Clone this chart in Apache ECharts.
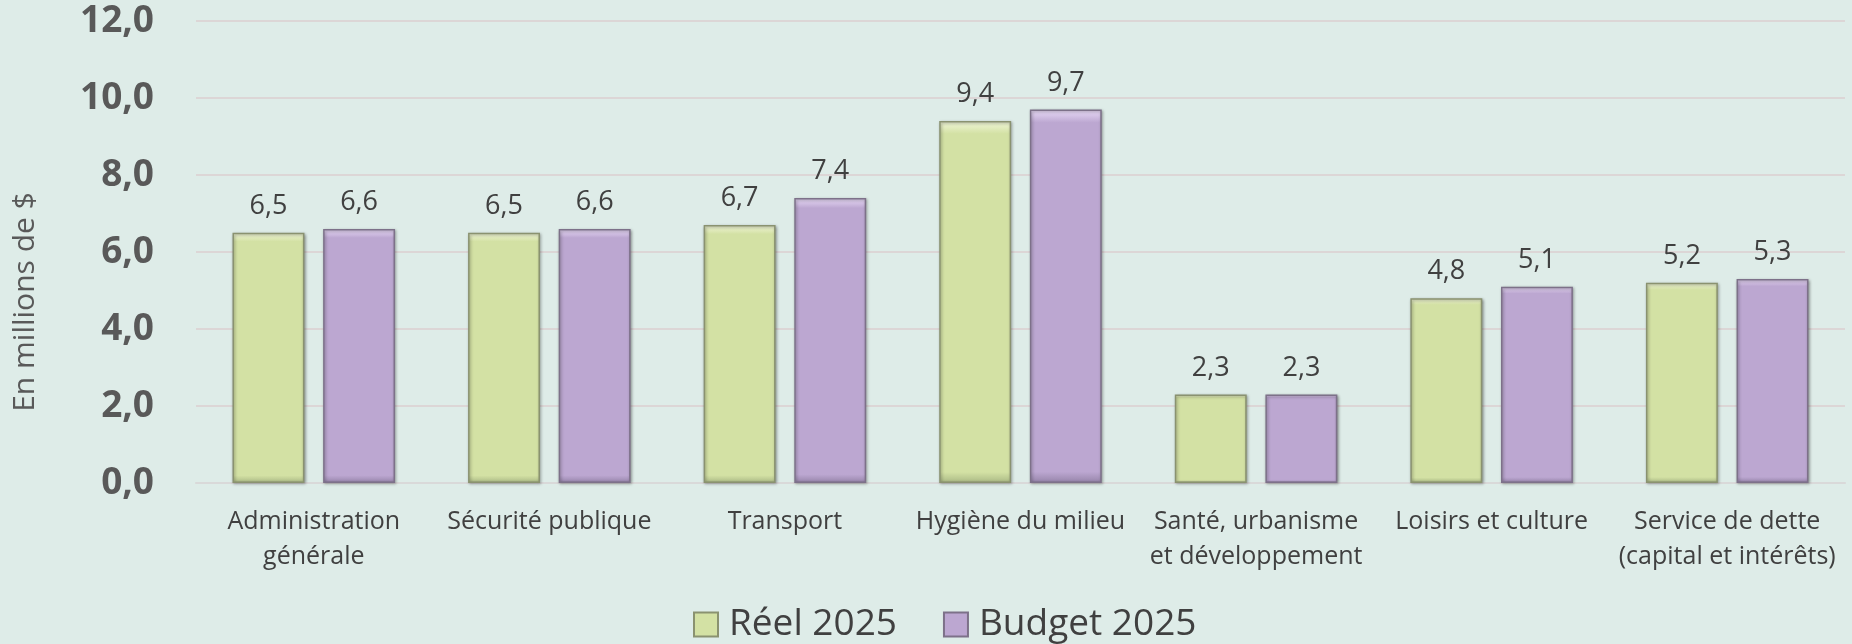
<!DOCTYPE html>
<html>
<head>
<meta charset="utf-8">
<script src="https://cdn.jsdelivr.net/npm/echarts@6/dist/echarts.min.js"></script>
<style>
    html, body { margin: 0; padding: 0; background: #deece8; }
    #chart { width: 1852px; height: 644px; }
</style>
</head>
<body>
<div id="chart"></div>
<script>
let categories = ['Administration\ngénérale', 'Sécurité publique', 'Transport', 'Hygiène du milieu',
    'Santé, urbanisme\net développement', 'Loisirs et culture', 'Service de dette\n(capital et intérêts)'];
let reelData = [6.5, 6.5, 6.7, 9.4, 2.3, 4.8, 5.2];
let budgetData = [6.6, 6.6, 7.4, 9.7, 2.3, 5.1, 5.3];
let seriesNames = ['Réel 2025', 'Budget 2025'];

let fontFamily = '"Open Sans", "Noto Sans", sans-serif';

function barFill(top, mid, bottom) {
    return new echarts.graphic.LinearGradient(0, 0, 0, 1, [
        { offset: 0, color: top },
        { offset: 0.035, color: mid },
        { offset: 0.97, color: mid },
        { offset: 1, color: bottom }
    ]);
}

function fmt(v) {
    return v.toFixed(1).replace('.', ',');
}

function makeSeries(name, data, fill, border) {
    return {
        name: name,
        type: 'bar',
        data: data,
        barGap: '26%',
        barCategoryGap: '31%',
        itemStyle: {
            color: fill,
            borderColor: border,
            borderWidth: 1.5,
            shadowColor: 'rgba(0,0,0,0.35)',
            shadowBlur: 3,
            shadowOffsetX: 1,
            shadowOffsetY: 1
        },
        label: {
            show: true,
            position: 'top',
            distance: 13,
            color: '#404040',
            fontFamily: fontFamily,
            fontSize: 27,
            formatter: function(p) { return fmt(p.value); }
        }
    };
}

let chart = echarts.init(document.getElementById('chart'));
let option = {
    backgroundColor: '#deece8',
    animation: false,
    grid: {
        left: 196,
        right: 7,
        top: 21,
        bottom: 161
    },
    legend: {
        bottom: -4,
        left: 688,
        icon: 'rect',
        itemWidth: 24,
        itemHeight: 24,
        itemGap: 46,
        textStyle: {
            color: '#404040',
            fontFamily: fontFamily,
            fontSize: 37,
            padding: [0, 0, 0, 6]
        },
        data: seriesNames
    },
    xAxis: {
        type: 'category',
        data: categories,
        axisTick: { show: false },
        axisLine: { lineStyle: { color: '#d9d9d9', width: 2 } },
        axisLabel: {
            color: '#404040',
            fontFamily: fontFamily,
            fontSize: 25,
            lineHeight: 35,
            margin: 21,
            interval: 0
        }
    },
    yAxis: {
        type: 'value',
        min: 0,
        max: 12,
        interval: 2,
        name: 'En millions de $',
        nameLocation: 'middle',
        nameGap: 156,
        nameTextStyle: {
            color: '#595959',
            fontFamily: fontFamily,
            fontSize: 30,
            padding: [0, 100, 0, 0]
        },
        axisLine: { show: false },
        axisTick: { show: false },
        splitLine: { lineStyle: { color: '#dcd6d6', width: 2 } },
        axisLabel: {
            color: '#595959',
            fontFamily: fontFamily,
            fontWeight: 'bold',
            fontSize: 37,
            margin: 42,
            formatter: function(v) { return fmt(v); }
        }
    },
    series: [
        makeSeries(seriesNames[0], reelData, barFill('#f2f7da', '#d3e1a4', '#a9b884'), '#8a9270'),
        makeSeries(seriesNames[1], budgetData, barFill('#eadcf8', '#bca7d1', '#9583a8'), '#7d7189')
    ]
};
chart.setOption(option);
</script>
</body>
</html>
